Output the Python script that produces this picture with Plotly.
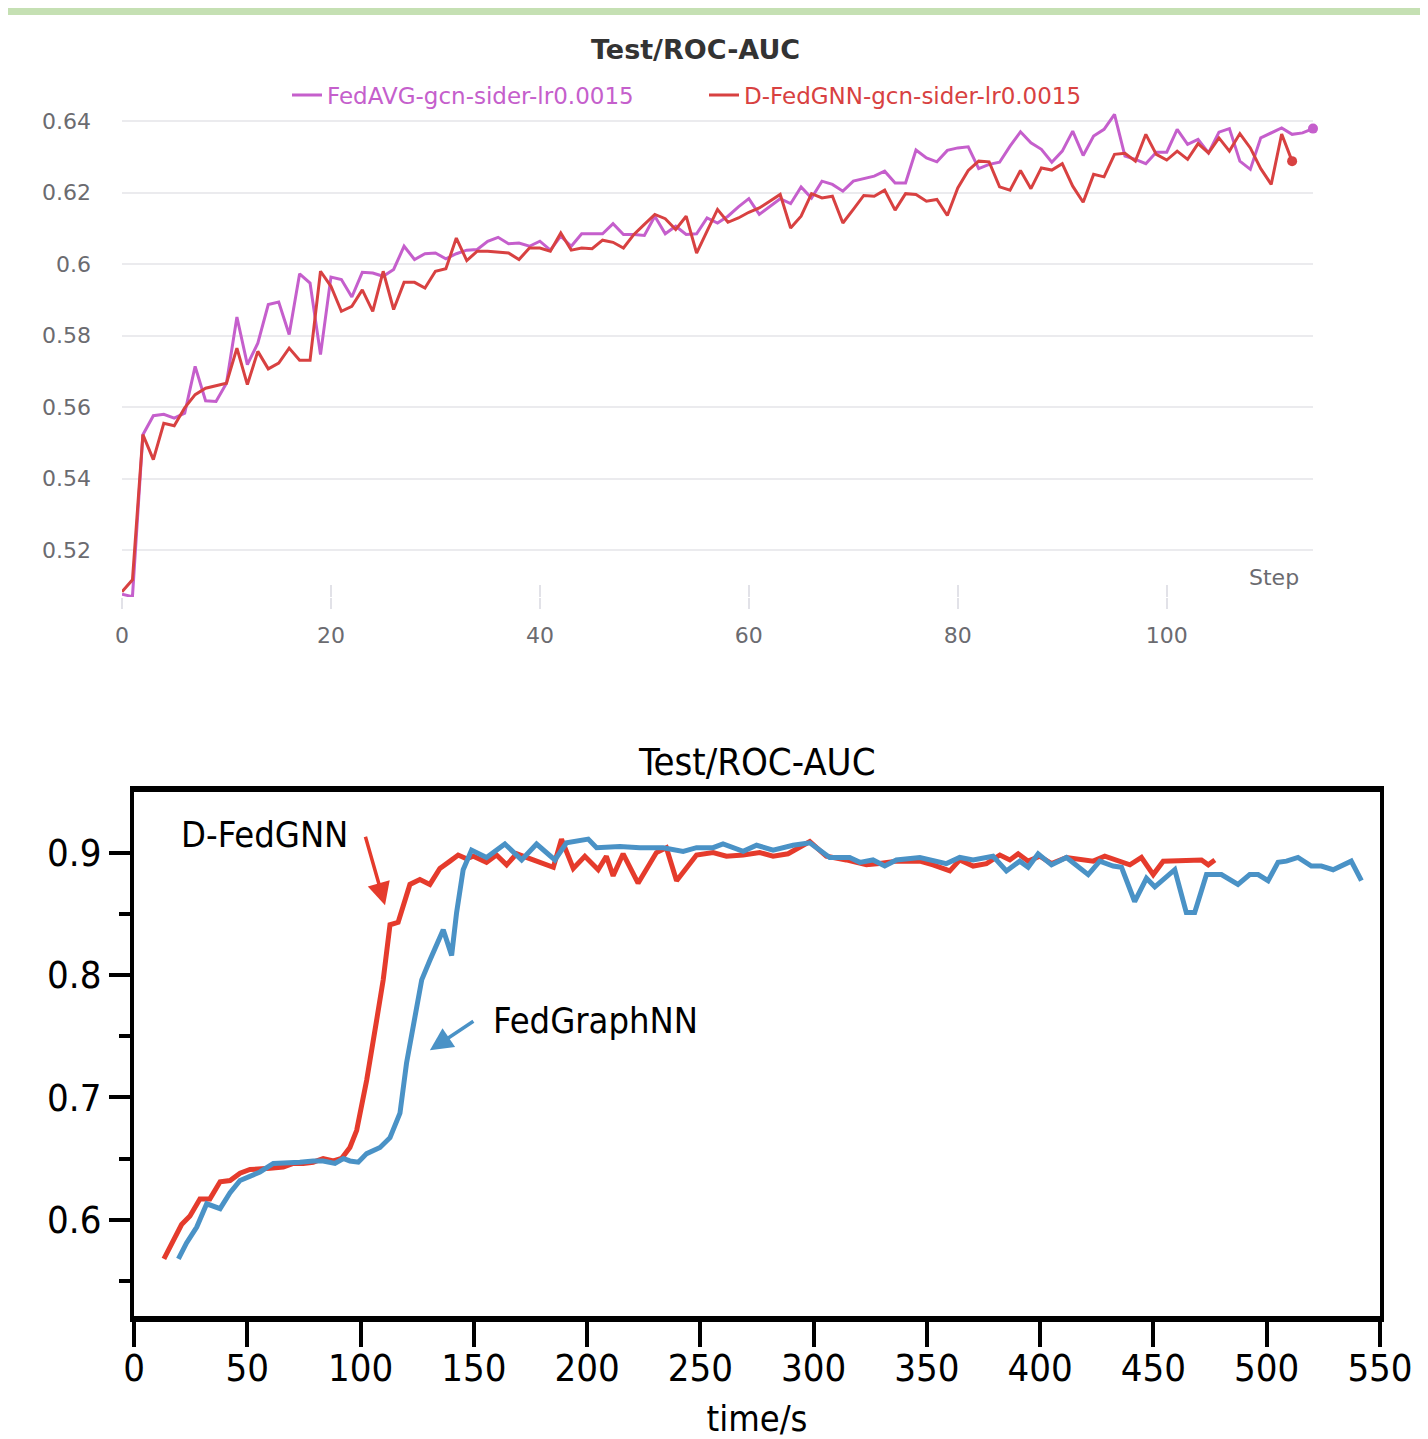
import plotly.graph_objects as go

# ---------------- top chart data (Step vs Test/ROC-AUC) ----------------
fedavg_name = "FedAVG-gcn-sider-lr0.0015"
dfedgnn_name = "D-FedGNN-gcn-sider-lr0.0015"

fedavg_auc = [
    0.5077, 0.5070, 0.5523, 0.5576, 0.5580, 0.5569, 0.5583, 0.5714, 0.5618, 0.5616,
    0.5667, 0.5852, 0.5719, 0.5779, 0.5887, 0.5894, 0.5803, 0.5973, 0.5947, 0.5747,
    0.5964, 0.5957, 0.5908, 0.5977, 0.5975, 0.5966, 0.5985, 0.6050, 0.6013, 0.6029,
    0.6031, 0.6015, 0.6029, 0.6039, 0.6041, 0.6064, 0.6075, 0.6057, 0.6059, 0.6050,
    0.6064, 0.6039, 0.6078, 0.6050, 0.6085, 0.6085, 0.6085, 0.6113, 0.6083, 0.6083,
    0.6080, 0.6134, 0.6085, 0.6106, 0.6083, 0.6085, 0.6129, 0.6115, 0.6134, 0.6160,
    0.6183, 0.6139, 0.6162, 0.6183, 0.6169, 0.6216, 0.6185, 0.6232, 0.6223, 0.6204,
    0.6232, 0.6240, 0.6246, 0.6260, 0.6227, 0.6227, 0.6319, 0.6297, 0.6286, 0.6318,
    0.6325, 0.6328, 0.6267, 0.6279, 0.6285, 0.6330, 0.6370, 0.6339, 0.6321, 0.6285,
    0.6316, 0.6372, 0.6304, 0.6358, 0.6377, 0.6419, 0.6302, 0.6293, 0.6281, 0.6313,
    0.6313, 0.6377, 0.6335, 0.6349, 0.6311, 0.6369, 0.6379, 0.6288, 0.6265, 0.6353,
    0.6367, 0.6381, 0.6363, 0.6367, 0.6379,
]
dfedgnn_auc = [
    0.5084, 0.5117, 0.5523, 0.5453, 0.5555, 0.5548, 0.5598, 0.5635, 0.5653, 0.5661,
    0.5667, 0.5765, 0.5663, 0.5756, 0.5707, 0.5723, 0.5765, 0.5731, 0.5731, 0.5980,
    0.5938, 0.5868, 0.5882, 0.5928, 0.5868, 0.5980, 0.5873, 0.5949, 0.5949, 0.5933,
    0.5980, 0.5987, 0.6073, 0.6010, 0.6036, 0.6036, 0.6033, 0.6031, 0.6013, 0.6045,
    0.6045, 0.6036, 0.6087, 0.6039, 0.6045, 0.6043, 0.6067, 0.6061, 0.6045, 0.6083,
    0.6111, 0.6139, 0.6127, 0.6097, 0.6134, 0.6031, 0.6092, 0.6153, 0.6117, 0.6129,
    0.6145, 0.6157, 0.6176, 0.6195, 0.6101, 0.6134, 0.6197, 0.6185, 0.6190, 0.6115,
    0.6153, 0.6192, 0.6190, 0.6207, 0.6151, 0.6197, 0.6195, 0.6176, 0.6181, 0.6136,
    0.6213, 0.6262, 0.6288, 0.6286, 0.6216, 0.6207, 0.6262, 0.6211, 0.6269, 0.6263,
    0.6281, 0.6218, 0.6173, 0.6251, 0.6244, 0.6307, 0.6310, 0.6288, 0.6363, 0.6307,
    0.6291, 0.6316, 0.6293, 0.6337, 0.6311, 0.6353, 0.6316, 0.6365, 0.6325, 0.6267,
    0.6223, 0.6364, 0.6288,
]
fedavg_steps = list(range(len(fedavg_auc)))
dfedgnn_steps = list(range(len(dfedgnn_auc)))

top_xticks = [0, 20, 40, 60, 80, 100]
top_yticks = [0.52, 0.54, 0.56, 0.58, 0.60, 0.62, 0.64]
top_yticklabels = ["0.52", "0.54", "0.56", "0.58", "0.6", "0.62", "0.64"]

# ---------------- bottom chart data (time/s vs Test/ROC-AUC) ----------------
dfed_time = [
    13.2, 21.0, 24.7, 29.1, 33.5, 38.0, 42.4, 46.8, 51.2, 55.6, 60.0, 65.9, 70.3, 74.7,
    79.1, 83.5, 88.0, 91.6, 95.3, 98.3, 102.7, 107.1, 110.0, 113.0, 116.6, 121.8, 126.2,
    130.6, 135.0, 139.5, 143.1, 146.8, 149.8, 155.6, 160.0, 164.5, 168.9, 176.2, 185.1,
    188.7, 193.9, 199.0, 204.9, 208.5, 211.5, 215.9, 222.5, 230.6, 235.0, 239.5, 248.3,
    255.6, 261.5, 268.9, 276.2, 282.1, 288.7, 298.3, 305.6, 314.4, 323.3, 329.1, 336.5,
    346.9, 352.7, 360.1, 364.5, 370.4, 376.3, 382.2, 386.6, 390.3, 394.7, 399.8, 405.0,
    411.6, 417.5, 423.4, 428.5, 433.7, 439.6, 444.7, 449.9, 454.3, 460.2, 466.1, 471.2,
    474.2, 477.1,
]
dfed_val = [
    0.568, 0.596, 0.603, 0.617, 0.617, 0.631, 0.632, 0.638, 0.641, 0.641, 0.642, 0.643,
    0.646, 0.646, 0.647, 0.650, 0.648, 0.650, 0.659, 0.673, 0.714, 0.763, 0.796, 0.841,
    0.843, 0.874, 0.878, 0.874, 0.887, 0.893, 0.898, 0.895, 0.897, 0.892, 0.898, 0.890,
    0.899, 0.894, 0.888, 0.911, 0.887, 0.897, 0.886, 0.897, 0.881, 0.899, 0.875, 0.900,
    0.904, 0.877, 0.898, 0.900, 0.897, 0.898, 0.900, 0.897, 0.899, 0.909, 0.897, 0.894,
    0.890, 0.891, 0.893, 0.893, 0.890, 0.885, 0.894, 0.889, 0.891, 0.898, 0.894, 0.899,
    0.893, 0.897, 0.891, 0.896, 0.894, 0.893, 0.897, 0.894, 0.890, 0.896, 0.882, 0.893,
    0.893, 0.894, 0.894, 0.890, 0.894,
]
fgnn_time = [
    19.6, 23.2, 27.7, 32.1, 38.0, 42.4, 46.8, 51.2, 55.6, 61.5, 67.4, 73.2, 79.1, 83.5,
    88.7, 92.4, 95.3, 99.0, 102.7, 108.6, 113.0, 117.4, 120.3, 123.3, 127.0, 130.6,
    136.5, 140.2, 142.4, 145.3, 149.0, 155.6, 163.7, 171.1, 177.7, 185.8, 190.9, 200.5,
    204.2, 214.5, 223.3, 233.6, 242.4, 248.3, 255.6, 260.0, 268.9, 274.8, 282.1, 290.9,
    298.3, 307.1, 315.9, 320.4, 326.2, 331.4, 336.5, 346.9, 352.7, 358.6, 364.5, 370.4,
    379.2, 385.1, 391.0, 394.7, 399.1, 405.0, 411.6, 416.0, 421.2, 426.3, 432.2, 435.9,
    441.7, 446.9, 450.6, 459.4, 464.5, 468.2, 473.4, 480.0, 487.3, 492.5, 496.2, 500.6,
    505.0, 508.7, 513.8, 519.7, 524.1, 529.3, 532.9, 537.3, 541.8,
]
fgnn_val = [
    0.568, 0.581, 0.594, 0.613, 0.609, 0.622, 0.632, 0.636, 0.639, 0.646, 0.646, 0.647,
    0.648, 0.648, 0.646, 0.650, 0.648, 0.647, 0.654, 0.659, 0.667, 0.687, 0.728, 0.760,
    0.796, 0.812, 0.837, 0.816, 0.851, 0.886, 0.902, 0.896, 0.907, 0.894, 0.907, 0.894,
    0.908, 0.911, 0.904, 0.905, 0.904, 0.904, 0.901, 0.904, 0.904, 0.907, 0.901, 0.906,
    0.902, 0.906, 0.908, 0.896, 0.896, 0.892, 0.894, 0.889, 0.894, 0.896, 0.893, 0.891,
    0.896, 0.894, 0.897, 0.885, 0.893, 0.888, 0.899, 0.890, 0.896, 0.889, 0.882, 0.893,
    0.889, 0.888, 0.860, 0.879, 0.872, 0.886, 0.851, 0.851, 0.882, 0.882, 0.874, 0.882,
    0.882, 0.877, 0.892, 0.893, 0.896, 0.889, 0.889, 0.886, 0.889, 0.893, 0.877,
]
bottom_xticks = list(range(0, 551, 50))
bottom_yticks = [0.6, 0.7, 0.8, 0.9]

# ---------------- styling ----------------
PURPLE = "#c55fcc"
RED_TOP = "#d84141"
RED = "#e53b2c"
BLUE = "#4a92c6"
GREY_TXT = "#6b6b70"
TOP_FONT = "DejaVu Sans"
NARROW = "Liberation Sans Narrow, Arial Narrow, DejaVu Sans Condensed, Liberation Sans"

# page has an 8px body margin; figure fills the rest of the 1428x1439 window
OFF = 8
W, H = 1428 - OFF, 1439 - OFF


def px(x):
    return (x - OFF) / W


def py(y):
    return 1 - (y - OFF) / H


fig = go.Figure()

# top chart traces
fig.add_trace(go.Scatter(
    x=fedavg_steps, y=fedavg_auc, mode="lines",
    name=f'<span style="color:{PURPLE}">{fedavg_name}</span>',
    line=dict(color=PURPLE, width=3), xaxis="x", yaxis="y"))
fig.add_trace(go.Scatter(
    x=dfedgnn_steps, y=dfedgnn_auc, mode="lines",
    name=f'<span style="color:{RED_TOP}">{dfedgnn_name}</span>',
    line=dict(color=RED_TOP, width=3), xaxis="x", yaxis="y"))
fig.add_trace(go.Scatter(
    x=[fedavg_steps[-1]], y=[fedavg_auc[-1]], mode="markers", cliponaxis=False,
    marker=dict(color=PURPLE, size=10), showlegend=False, xaxis="x", yaxis="y"))
fig.add_trace(go.Scatter(
    x=[dfedgnn_steps[-1]], y=[dfedgnn_auc[-1]], mode="markers", cliponaxis=False,
    marker=dict(color=RED_TOP, size=10), showlegend=False, xaxis="x", yaxis="y"))
# invisible trace to carry overlay tick axis
fig.add_trace(go.Scatter(x=[fedavg_steps[0]], y=[fedavg_auc[0]], mode="markers",
                         marker=dict(opacity=0), showlegend=False, hoverinfo="skip",
                         xaxis="x3", yaxis="y"))

# bottom chart traces
fig.add_trace(go.Scatter(
    x=dfed_time, y=dfed_val, mode="lines", name="D-FedGNN",
    line=dict(color=RED, width=5), showlegend=False, xaxis="x2", yaxis="y2"))
fig.add_trace(go.Scatter(
    x=fgnn_time, y=fgnn_val, mode="lines", name="FedGraphNN",
    line=dict(color=BLUE, width=5), showlegend=False, xaxis="x2", yaxis="y2"))

top_dom_x = [px(122), px(1313)]
top_dom_y = [py(597), py(105)]
bot_dom_x = [px(134), px(1380)]
bot_dom_y = [py(1316), py(792)]

fig.update_layout(
    width=W, height=H,
    margin=dict(l=0, r=0, t=0, b=0, autoexpand=False),
    paper_bgcolor="white", plot_bgcolor="white",
    font=dict(family=TOP_FONT, color=GREY_TXT),
    showlegend=True,
    legend=dict(
        orientation="h", x=px(287), y=py(95), xanchor="left", yanchor="middle",
        font=dict(family=TOP_FONT, size=23), entrywidth=372, entrywidthmode="pixels",
        bgcolor="rgba(0,0,0,0)", itemclick=False,
    ),
    xaxis=dict(
        domain=top_dom_x, range=[0, 114], anchor="y", automargin=False,
        tickvals=top_xticks, ticks="outside", ticklen=11, tickwidth=2, tickcolor="#e2e2e8",
        showgrid=False, zeroline=False, showline=False,
        tickfont=dict(family=TOP_FONT, size=22, color=GREY_TXT), ticklabelstandoff=8,
    ),
    xaxis3=dict(
        overlaying="x", anchor="y", range=[0, 114], side="bottom", automargin=False,
        tickvals=top_xticks, ticks="inside", ticklen=12, tickwidth=2, tickcolor="#e2e2e8",
        showticklabels=False, showgrid=False, zeroline=False, showline=False,
    ),
    yaxis=dict(
        domain=top_dom_y, range=[0.5069, 0.6445], anchor="x", automargin=False,
        tickvals=top_yticks, ticktext=top_yticklabels, ticks="",
        showgrid=True, gridcolor="#ebebee", gridwidth=1.5, zeroline=False, showline=False,
        tickfont=dict(family=TOP_FONT, size=22, color=GREY_TXT), ticklabelstandoff=30,
    ),
    xaxis2=dict(
        domain=bot_dom_x, range=[0, 550], anchor="y2", automargin=False,
        tickvals=bottom_xticks, ticks="outside", ticklen=25, tickwidth=4, tickcolor="black",
        showline=True, linewidth=6, linecolor="black", mirror=True,
        showgrid=False, zeroline=False,
        tickfont=dict(family=NARROW, size=38, color="black"), ticklabelstandoff=-12,
        title=dict(text="time/s", font=dict(family=NARROW, size=36, color="black"), standoff=25),
    ),
    yaxis2=dict(
        domain=bot_dom_y, range=[0.5213, 0.9495], anchor="x2", automargin=False,
        tickvals=bottom_yticks, ticks="outside", ticklen=21, tickwidth=4, tickcolor="black",
        minor=dict(tick0=0.55, dtick=0.1, ticks="outside", ticklen=11, tickwidth=4,
                   tickcolor="black", showgrid=False),
        showline=True, linewidth=4, linecolor="black", mirror=True,
        showgrid=False, zeroline=False,
        tickfont=dict(family=NARROW, size=38, color="black"), ticklabelstandoff=0,
    ),
    shapes=[dict(type="rect", xref="paper", yref="paper", x0=0, x1=1, y0=1 - 7 / H, y1=1,
                 fillcolor="#c5e0b3", line=dict(width=0), layer="above")],
    annotations=[
        dict(text="Test/ROC-AUC", xref="paper", yref="paper", x=px(695), y=py(49),
             xanchor="center", yanchor="middle", showarrow=False,
             font=dict(family=TOP_FONT, size=27, color="#333333", weight="bold")),
        dict(text="Step", xref="paper", yref="paper", x=px(1274), y=py(577),
             xanchor="center", yanchor="middle", showarrow=False,
             font=dict(family=TOP_FONT, size=22, color=GREY_TXT)),
        dict(text="Test/ROC-AUC", xref="paper", yref="paper", x=px(757), y=py(762),
             xanchor="center", yanchor="middle", showarrow=False,
             font=dict(family=NARROW, size=38, color="black")),
        dict(text="D-FedGNN", xref="x2", yref="y2", x=57.8, y=0.915, showarrow=False,
             xanchor="center", yanchor="middle",
             font=dict(family=NARROW, size=36, color="black")),
        dict(text="", xref="x2", yref="y2", x=110.8, y=0.857, ax=-20, ay=-70,
             axref="pixel", ayref="pixel", showarrow=True, arrowhead=2, arrowsize=1.3,
             arrowwidth=3.5, arrowcolor=RED),
        dict(text="FedGraphNN", xref="x2", yref="y2", x=203.6, y=0.763, showarrow=False,
             xanchor="center", yanchor="middle",
             font=dict(family=NARROW, size=36, color="black")),
        dict(text="", xref="x2", yref="y2", x=130.6, y=0.7385, ax=45, ay=-30,
             axref="pixel", ayref="pixel", showarrow=True, arrowhead=2, arrowsize=1.3,
             arrowwidth=3.5, arrowcolor=BLUE),
    ],
)

fig.write_html("out.html")
